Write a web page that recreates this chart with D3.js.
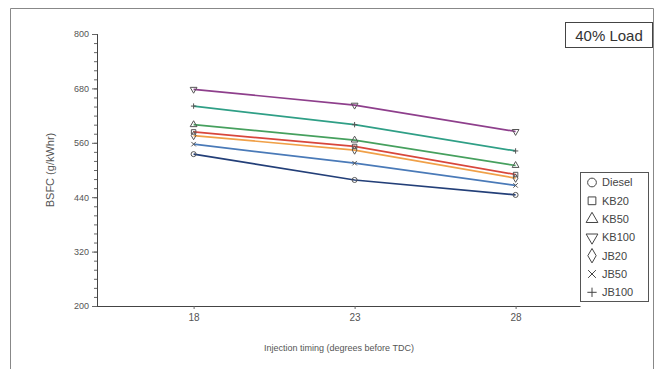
<!DOCTYPE html>
<html>
<head>
<meta charset="utf-8">
<script src="https://cdn.jsdelivr.net/npm/d3@7"></script>
<style>
  body { margin: 0; background: #fff; }
  svg text { font-family: "Liberation Sans", Arial, sans-serif; }
</style>
</head>
<body>
<div id="chart"></div>
<script>
"use strict";

// injection timing (degrees before TDC)
const timings = [18, 23, 28];
const seriesNames = ["Diesel", "KB20", "KB50", "KB100", "JB20", "JB50", "JB100"];
const diesel = [535, 478, 445];
const kb20 = [584, 552, 490];
const kb50 = [600, 566, 510];
const kb100 = [678, 643, 585];
const jb20 = [576, 544, 482];
const jb50 = [557, 515, 466];
const jb100 = [641, 600, 542];
const yTicks = [200, 320, 440, 560, 680, 800];

const seriesValues = [diesel, kb20, kb50, kb100, jb20, jb50, jb100];
const colors = ["#233f78", "#d8473c", "#46a05e", "#8e3f8c", "#f0a048", "#4a7ab8", "#2f9f86"];
const symbols = [d3.symbolCircle, d3.symbolSquare, d3.symbolTriangle, "tri-down", d3.symbolDiamond, d3.symbolCross, "plus"];

const width = 656, height = 369;
const margin = { top: 34, right: 76, bottom: 63, left: 97 };

const svg = d3.select("#chart").append("svg")
    .attr("width", width)
    .attr("height", height);

// outer frame
svg.append("path")
    .attr("d", "M10.5,369 V8.5 H653.5 V369")
    .attr("fill", "none")
    .attr("stroke", "#888")
    .attr("stroke-width", 1);

const x = d3.scaleLinear()
    .domain([15, 30])
    .range([margin.left, width - margin.right]);

const y = d3.scaleLinear()
    .domain([200, 800])
    .range([height - margin.bottom, margin.top]);

// y axis with minor ticks
const yAxisG = svg.append("g")
    .attr("transform", "translate(" + margin.left + ",0)")
    .call(d3.axisLeft(y).tickValues(d3.range(200, 801, 20)).tickSize(3).tickFormat(""));
yAxisG.append("g")
    .call(d3.axisLeft(y).tickValues(yTicks).tickSize(5).tickFormat(d3.format("d")));
yAxisG.selectAll("path.domain").attr("stroke", "#444");
yAxisG.selectAll("line").attr("stroke", "#666");
yAxisG.selectAll("text")
    .attr("fill", "#555")
    .style("font-size", "9px");

// x axis
const xAxisG = svg.append("g")
    .attr("transform", "translate(0," + y(200) + ")")
    .call(d3.axisBottom(x).tickValues(timings).tickSize(3).tickSizeOuter(0));
xAxisG.selectAll("path.domain").attr("stroke", "#444");
xAxisG.selectAll("line").attr("stroke", "#666");
xAxisG.selectAll("text")
    .attr("fill", "#555")
    .attr("dy", "0.9em")
    .style("font-size", "10px");

// axis titles
svg.append("text")
    .attr("transform", "translate(54," + y(500) + ") rotate(-90)")
    .attr("text-anchor", "middle")
    .attr("fill", "#555")
    .style("font-size", "11px")
    .text("BSFC (g/kWhr)");

svg.append("text")
    .attr("x", 339)
    .attr("y", 351)
    .attr("text-anchor", "middle")
    .attr("fill", "#555")
    .style("font-size", "9px")
    .text("Injection timing (degrees before TDC)");

function markerPath(sym, size) {
    if (sym === "tri-down") {
        return d3.symbol(d3.symbolTriangle, size)();
    }
    if (sym === "plus") {
        const r = Math.sqrt(size) * 0.6;
        return "M" + (-r) + ",0H" + r + "M0," + (-r) + "V" + r;
    }
    if (sym === d3.symbolCross) {
        const r = Math.sqrt(size) * 0.5;
        return "M" + (-r) + "," + (-r) + "L" + r + "," + r + "M" + r + "," + (-r) + "L" + (-r) + "," + r;
    }
    return d3.symbol(sym, size)();
}

const line = d3.line()
    .x((d, i) => x(timings[i]))
    .y(d => y(d));

// lines
seriesValues.forEach(function (vals, s) {
    svg.append("path")
        .datum(vals)
        .attr("fill", "none")
        .attr("stroke", colors[s])
        .attr("stroke-width", 1.7)
        .attr("d", line);
});

// markers
seriesValues.forEach(function (vals, s) {
    svg.append("g")
        .selectAll("path")
        .data(vals)
        .enter()
        .append("path")
        .attr("transform", (d, i) => "translate(" + x(timings[i]) + "," + y(d) + ")" + (symbols[s] === "tri-down" ? " rotate(180)" : ""))
        .attr("d", markerPath(symbols[s], 20))
        .attr("fill", "none")
        .attr("stroke", "#555")
        .attr("stroke-width", 1);
});

// "40% Load" box
svg.append("rect")
    .attr("x", 565.5).attr("y", 22.5)
    .attr("width", 87).attr("height", 25)
    .attr("fill", "#fff")
    .attr("stroke", "#444");
svg.append("text")
    .attr("x", 609).attr("y", 40.5)
    .attr("text-anchor", "middle")
    .attr("fill", "#333")
    .style("font-size", "15px")
    .text("40% Load");

// legend
const legend = svg.append("g");
legend.append("rect")
    .attr("x", 580.5).attr("y", 172.5)
    .attr("width", 68).attr("height", 129)
    .attr("fill", "#fff")
    .attr("stroke", "#555");
const items = legend.selectAll("g.item")
    .data(seriesNames)
    .enter()
    .append("g")
    .attr("class", "item")
    .attr("transform", (d, i) => "translate(592," + (182.5 + i * 18.3) + ")");
items.append("path")
    .attr("transform", (d, i) => symbols[i] === "tri-down" ? "rotate(180)" : null)
    .attr("d", (d, i) => markerPath(symbols[i], 60))
    .attr("fill", "none")
    .attr("stroke", "#444")
    .attr("stroke-width", 1);
items.append("text")
    .attr("x", 10)
    .attr("dy", "0.36em")
    .attr("fill", "#444")
    .style("font-size", "11px")
    .text(d => d);
</script>
</body>
</html>
